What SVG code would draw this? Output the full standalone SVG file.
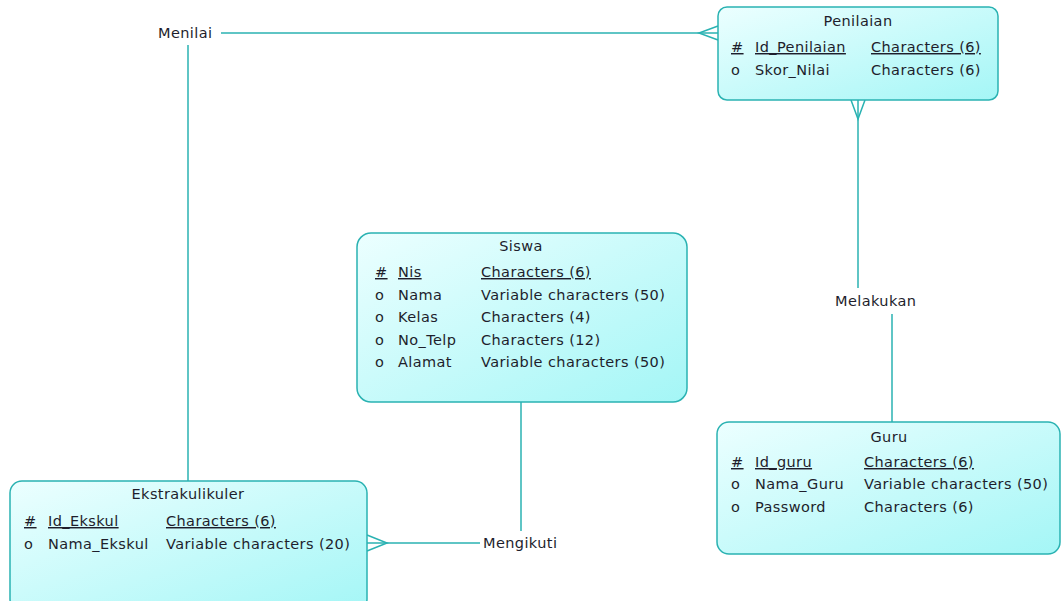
<svg xmlns="http://www.w3.org/2000/svg" width="1062" height="601" viewBox="0 0 1062 601">
  <defs>
    <linearGradient id="entityFill" x1="0" y1="0" x2="1" y2="1">
      <stop offset="0" stop-color="#ecffff"/>
      <stop offset="1" stop-color="#a4f6f6"/>
    </linearGradient>
  </defs>
  <style>
    .box { fill: url(#entityFill); stroke: #2ab2b2; stroke-width: 1.5; }
    .conn { fill: none; stroke: #2ab2b2; stroke-width: 1.5; }
    text { font-family: "DejaVu Sans", "Liberation Sans", sans-serif; font-size: 14.5px; fill: #1e1e2c; letter-spacing: 0.4px; }
    .title { text-anchor: middle; }
    .pk { text-decoration: underline; }
  </style>
  <rect width="1062" height="601" fill="#ffffff"/>

  <g id="connectors">
    <!-- Menilai: Penilaian <-> Ekstrakulikuler -->
    <line class="conn" x1="221" y1="33" x2="718" y2="33"/>
    <polyline class="conn" points="718,26 699,33 718,40"/>
    <line class="conn" x1="188" y1="45" x2="188" y2="481"/>
    <!-- Melakukan: Penilaian <-> Guru -->
    <line class="conn" x1="858" y1="100" x2="858" y2="288"/>
    <polyline class="conn" points="851,100 858,119 865,100"/>
    <line class="conn" x1="892" y1="314" x2="892" y2="422"/>
    <!-- Mengikuti: Siswa <-> Ekstrakulikuler -->
    <line class="conn" x1="521" y1="402" x2="521" y2="531"/>
    <line class="conn" x1="367" y1="543" x2="480" y2="543"/>
    <polyline class="conn" points="367,535 387,543 367,551"/>
  </g>

  <g id="rel-menilai"><text x="158" y="38">Menilai</text></g>
  <g id="rel-melakukan"><text x="835" y="306">Melakukan</text></g>
  <g id="rel-mengikuti"><text x="483" y="548">Mengikuti</text></g>

  <g id="penilaian">
    <rect class="box" x="718" y="7" width="280" height="93" rx="9"/>
    <text class="title" x="858" y="26">Penilaian</text>
    <text class="pk" x="731" y="52">#</text>
    <text class="pk" x="755" y="52">Id_Penilaian</text>
    <text class="pk" x="871" y="52">Characters (6)</text>
    <text x="731" y="75">o</text>
    <text x="755" y="75">Skor_Nilai</text>
    <text x="871" y="75">Characters (6)</text>
  </g>

  <g id="siswa">
    <rect class="box" x="357" y="233" width="330" height="169" rx="14"/>
    <text class="title" x="521" y="251">Siswa</text>
    <text class="pk" x="375" y="277">#</text>
    <text class="pk" x="398" y="277">Nis</text>
    <text class="pk" x="481" y="277">Characters (6)</text>
    <text x="375" y="300">o</text>
    <text x="398" y="300">Nama</text>
    <text x="481" y="300">Variable characters (50)</text>
    <text x="375" y="322">o</text>
    <text x="398" y="322">Kelas</text>
    <text x="481" y="322">Characters (4)</text>
    <text x="375" y="345">o</text>
    <text x="398" y="345">No_Telp</text>
    <text x="481" y="345">Characters (12)</text>
    <text x="375" y="367">o</text>
    <text x="398" y="367">Alamat</text>
    <text x="481" y="367">Variable characters (50)</text>
  </g>

  <g id="ekstrakulikuler">
    <rect class="box" x="10" y="481" width="357" height="130" rx="12"/>
    <text class="title" x="188" y="499">Ekstrakulikuler</text>
    <text class="pk" x="24" y="526">#</text>
    <text class="pk" x="48" y="526">Id_Ekskul</text>
    <text class="pk" x="166" y="526">Characters (6)</text>
    <text x="24" y="549">o</text>
    <text x="48" y="549">Nama_Ekskul</text>
    <text x="166" y="549">Variable characters (20)</text>
  </g>

  <g id="guru">
    <rect class="box" x="717" y="422" width="343" height="132" rx="12"/>
    <text class="title" x="889" y="442">Guru</text>
    <text class="pk" x="731" y="467">#</text>
    <text class="pk" x="755" y="467">Id_guru</text>
    <text class="pk" x="864" y="467">Characters (6)</text>
    <text x="731" y="489">o</text>
    <text x="755" y="489">Nama_Guru</text>
    <text x="864" y="489">Variable characters (50)</text>
    <text x="731" y="512">o</text>
    <text x="755" y="512">Password</text>
    <text x="864" y="512">Characters (6)</text>
  </g>
</svg>
